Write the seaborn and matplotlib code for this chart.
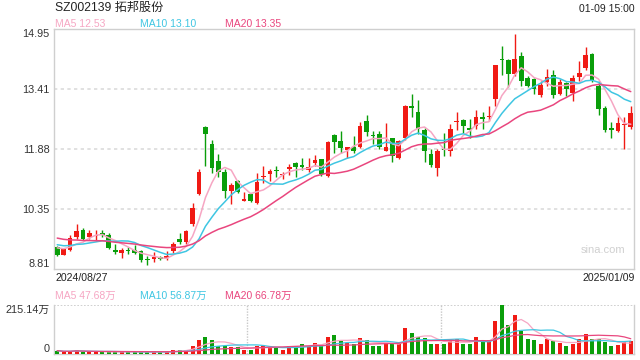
import matplotlib
matplotlib.use('Agg')
import matplotlib.pyplot as plt
import numpy as np
import pandas as pd
import seaborn as sns

# header / labels
stock_name = "SZ002139 拓邦股份"
stamp = "01-09 15:00"
first_date = "2024/08/27"
last_date = "2025/01/09"
price_ticks = [8.81, 10.35, 11.88, 13.41, 14.95]
vol_top = 215.14
ma_text = ["MA5 12.53", "MA10 13.10", "MA20 13.35"]
vol_ma_text = ["MA5 47.68万", "MA10 56.87万", "MA20 66.78万"]

# daily OHLC (yuan)
open_ = [9.37, 9.18, 9.30, 9.63, 9.82, 9.63, 9.65, 9.72, 9.69, 9.29,
         9.23, 9.30, 9.30, 9.28, 9.07, 9.06, 9.11, 9.09, 9.26, 9.58,
         9.49, 9.95, 10.74, 12.44, 12.00, 11.57, 11.29, 10.80, 11.05, 10.56,
         10.72, 10.49, 11.16, 11.24, 11.34, 11.21, 11.36, 11.52, 11.46, 11.34,
         11.52, 11.62, 11.19, 12.23, 12.08, 11.85, 11.92, 11.92, 12.59, 12.23,
         12.26, 11.83, 12.15, 11.64, 12.15, 12.97, 12.83, 12.37, 11.74, 11.40,
         11.88, 11.83, 12.58, 12.62, 12.43, 12.46, 12.69, 12.69, 13.16, 14.19,
         14.15, 13.80, 14.27, 13.69, 13.67, 13.25, 13.60, 13.78, 13.29, 13.57,
         13.31, 13.72, 13.95, 14.32, 13.50, 12.92, 12.41, 12.35, 12.49, 12.45]
high = [9.41, 9.34, 9.69, 9.95, 9.86, 9.80, 9.80, 9.82, 9.73, 9.46,
        9.35, 9.37, 9.43, 9.30, 9.13, 9.24, 9.15, 9.26, 9.49, 9.73,
        9.80, 10.49, 11.38, 12.46, 12.11, 11.76, 11.36, 11.02, 11.09, 10.79,
        10.76, 11.27, 11.45, 11.38, 11.45, 11.29, 11.49, 11.55, 11.64, 11.64,
        11.72, 11.63, 12.09, 12.26, 12.33, 11.93, 12.22, 12.56, 12.75, 12.35,
        12.35, 12.54, 12.17, 12.11, 13.00, 13.28, 13.14, 12.43, 11.88, 11.88,
        12.30, 12.52, 12.82, 12.65, 12.65, 12.89, 12.82, 12.97, 14.03, 14.52,
        14.19, 14.81, 14.36, 13.76, 13.69, 13.63, 13.93, 13.89, 13.67, 13.60,
        13.78, 14.12, 14.49, 14.33, 13.63, 12.97, 12.56, 12.69, 12.69, 12.99]
low = [9.13, 9.16, 9.26, 9.58, 9.56, 9.58, 9.56, 9.63, 9.32, 9.20,
       9.08, 9.20, 9.20, 9.00, 8.92, 8.99, 9.03, 9.05, 9.23, 9.46,
       9.46, 9.90, 10.70, 11.45, 11.27, 11.16, 10.62, 10.48, 10.76, 10.55,
       10.52, 10.48, 11.00, 11.06, 11.17, 11.10, 11.21, 11.17, 11.34, 11.29,
       11.45, 11.19, 11.17, 11.77, 11.79, 11.66, 11.79, 11.90, 12.22, 12.00,
       11.88, 11.82, 11.55, 11.62, 12.12, 12.69, 12.26, 11.55, 11.43, 11.20,
       11.70, 11.70, 12.37, 12.30, 12.17, 12.39, 12.39, 12.60, 12.97, 13.78,
       13.46, 13.76, 13.50, 13.46, 13.29, 13.20, 13.50, 13.18, 13.26, 13.23,
       13.12, 13.63, 13.89, 13.59, 12.75, 12.32, 12.17, 12.32, 11.88, 12.39]
close = [9.18, 9.32, 9.60, 9.79, 9.58, 9.72, 9.69, 9.68, 9.36, 9.25,
         9.30, 9.28, 9.22, 9.03, 9.05, 9.11, 9.07, 9.15, 9.46, 9.49,
         9.77, 10.36, 11.29, 12.27, 11.39, 11.29, 10.80, 10.95, 10.79, 10.61,
         10.55, 11.03, 11.19, 11.32, 11.32, 11.24, 11.42, 11.42, 11.42, 11.43,
         11.59, 11.23, 12.05, 12.06, 11.90, 11.92, 11.83, 12.46, 12.32, 12.20,
         11.92, 11.92, 11.69, 12.09, 12.97, 12.93, 12.39, 11.83, 11.46, 11.83,
         11.85, 12.39, 12.60, 12.46, 12.37, 12.69, 12.65, 12.72, 14.02, 14.16,
         13.79, 14.19, 13.63, 13.50, 13.42, 13.52, 13.73, 13.25, 13.60, 13.42,
         13.69, 13.83, 14.29, 13.63, 12.90, 12.36, 12.36, 12.54, 12.52, 12.79]
# closes before the window, only used to start the moving averages
prev_close = [9.95, 9.90, 9.85, 9.80, 9.78, 9.75, 9.72, 9.70, 9.65, 9.60,
              9.58, 9.55, 9.50, 9.48, 9.45, 9.42, 9.38, 9.40, 9.37]
# volume (万手)
volume = [14.8, 8.9, 11.9, 19.3, 8.9, 8.9, 8.9, 8.9, 11.9, 8.9,
          8.9, 8.9, 8.9, 8.9, 8.9, 8.9, 8.9, 8.9, 19.3, 19.3,
          19.3, 37.1, 59.3, 74.2, 59.3, 37.1, 34.1, 29.7, 29.7, 19.3,
          19.3, 37.1, 34.1, 29.7, 26.7, 19.3, 37.1, 34.1, 44.5, 37.1,
          49.0, 37.1, 75.7, 81.6, 56.4, 49.0, 44.5, 71.2, 59.3, 37.1,
          37.1, 49.0, 49.0, 44.5, 112.8, 93.5, 74.2, 71.2, 44.5, 46.0,
          44.5, 59.3, 63.8, 46.0, 46.0, 74.2, 53.4, 59.3, 145.4, 215.14,
          126.1, 170.6, 100.9, 63.8, 59.3, 46.0, 63.8, 56.4, 49.0, 37.1,
          46.0, 66.0, 88.0, 66.0, 63.8, 54.0, 36.0, 40.0, 51.0, 57.0]

ma_colors = ["#f6a6c3", "#3fc6e2", "#e9467e"]
up_color = "#f01a14"
down_color = "#0a9e0a"
frame_color = "#cfcfcf"
grid_color = "#dcdcdc"

sns.set_theme(style="white")
plt.rcParams['font.family'] = ['Liberation Sans', 'Noto Sans CJK SC']

n = len(close)
x = np.arange(n)
o = np.array(open_)
c = np.array(close)
h = np.array(high)
l = np.array(low)
colors = np.where(c >= o, up_color, down_color)

all_close = pd.Series(prev_close + close)
ma_df = pd.DataFrame({'x': x})
for win in (5, 10, 20):
    ma_df[f'MA{win}'] = all_close.rolling(win).mean().iloc[len(prev_close):].to_numpy()
    ma_df[f'VMA{win}'] = pd.Series(volume).rolling(win, min_periods=1).mean().to_numpy()

W, H = 640, 360


def fx(px):
    return px / W


def fy(py):
    return 1 - py / H


fig = plt.figure(figsize=(6.4, 3.6), dpi=100)
ax = fig.add_axes([fx(54), fy(269), fx(580), 240 / H])
axv = fig.add_axes([fx(54), fy(354), fx(580), 49 / H])

# candles
ax.vlines(x, l, h, colors=colors, lw=1.0, zorder=3)
body = np.maximum(np.abs(c - o), 0.025)
ax.bar(x, body, bottom=np.minimum(o, c), width=0.72, color=colors, lw=0, zorder=4)

for win, col in zip((5, 10, 20), ma_colors):
    sns.lineplot(data=ma_df, x='x', y=f'MA{win}', ax=ax, color=col, lw=1.1, zorder=5)

for p in price_ticks[1:-1]:
    ax.axhline(p, color=grid_color, ls=(0, (2, 2)), lw=1.2, zorder=1)

ax.set_xlim(-0.5, n - 0.5)
ax.set_ylim(price_ticks[0], price_ticks[-1])
ax.set_yticks(price_ticks)
ax.set_yticklabels([f"{p:.2f}" for p in price_ticks], fontsize=7.8, color='#333333')
ax.set_xticks([])
ax.set_xlabel('')
ax.set_ylabel('')
ax.tick_params(axis='y', length=0, pad=3)
labs = ax.get_yticklabels()
labs[0].set_va('bottom')
labs[-1].set_va('top')
for s in ax.spines.values():
    s.set_color(frame_color)
    s.set_linewidth(1)
ax.text(0.985, 0.08, "sina.com", transform=ax.transAxes, ha='right', va='center',
        fontsize=8, color='#d0d0d0')

# volume
axv.bar(x, volume, width=0.62, color=colors, lw=0, zorder=3)
for win, col in zip((5, 10, 20), ma_colors):
    sns.lineplot(data=ma_df, x='x', y=f'VMA{win}', ax=axv, color=col, lw=0.9, zorder=4)
axv.axhline(vol_top, color='#c8c8c8', ls=(0, (1, 1)), lw=1.2, zorder=1)
for xv in (n / 3 - 0.5, 2 * n / 3 - 0.5):
    axv.axvline(xv, color='#c8c8c8', ls=(0, (1, 1)), lw=1, zorder=1)
axv.set_xlim(-0.5, n - 0.5)
axv.set_ylim(0, vol_top)
axv.set_yticks([0, vol_top])
axv.set_yticklabels(["0", f"{vol_top:.2f}万"], fontsize=7.8, color='#333333')
axv.set_xticks([])
axv.set_xlabel('')
axv.set_ylabel('')
axv.tick_params(axis='y', length=0, pad=3)
vlabs = axv.get_yticklabels()
vlabs[0].set_va('bottom')
vlabs[-1].set_va('top')
axv.spines['top'].set_visible(False)
for s in ('left', 'right', 'bottom'):
    axv.spines[s].set_color(frame_color)
    axv.spines[s].set_linewidth(1)

# header texts
fig.text(fx(55), fy(8), stock_name, ha='left', va='center', fontsize=8.7, color='#222222')
fig.text(fx(635), fy(9), stamp, ha='right', va='center', fontsize=7.5, color='#222222')
for xp, txt, col in zip((55, 140, 225), ma_text, ma_colors):
    fig.text(fx(xp), fy(24), txt, ha='left', va='center', fontsize=7.5, color=col)
for xp, txt, col in zip((55, 140, 225), vol_ma_text, ma_colors):
    fig.text(fx(xp), fy(296), txt, ha='left', va='center', fontsize=7.5, color=col)
fig.text(fx(55), fy(278), first_date, ha='left', va='center', fontsize=7.6, color='#222222')
fig.text(fx(635), fy(278), last_date, ha='right', va='center', fontsize=7.6, color='#222222')

fig.savefig("out.png", dpi=100, facecolor='white')
